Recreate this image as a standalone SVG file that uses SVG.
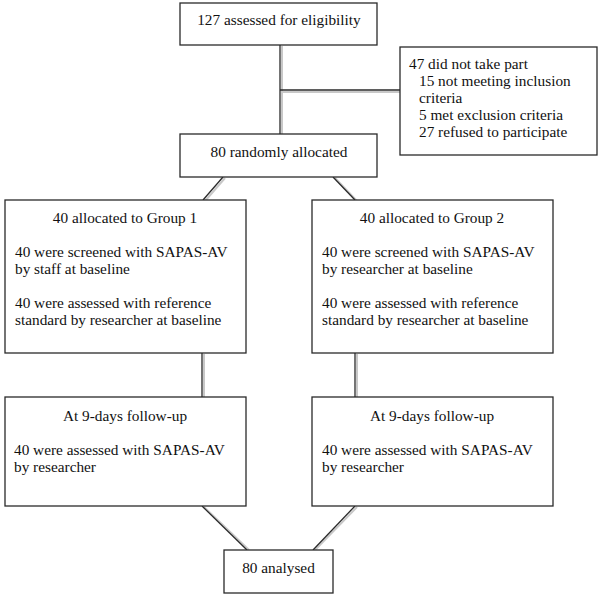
<svg xmlns="http://www.w3.org/2000/svg" width="600" height="597" viewBox="0 0 600 597">
<style>
.box{fill:#fff;stroke:#2a2a2a;stroke-width:1.3}
.t{font-family:"Liberation Serif","Times New Roman",serif;font-size:15.3px;fill:#111}
.c{text-anchor:middle}
.con line{stroke:#2a2a2a;stroke-width:1.3}
.sh line{stroke:#c8c8c8;stroke-width:2}
</style>
<rect width="600" height="597" fill="#fff"/>
<g id="connectors">
<g class="sh">
<line x1="282" y1="46" x2="282" y2="134"/>
<line x1="281" y1="92" x2="400" y2="92"/>
<line x1="225" y1="178" x2="205" y2="201"/>
<line x1="335" y1="178" x2="357" y2="201"/>
<line x1="204" y1="354" x2="204" y2="397"/>
<line x1="357" y1="354" x2="357" y2="397"/>
<line x1="204" y1="507" x2="249" y2="550"/>
<line x1="357" y1="507" x2="315" y2="550"/>
</g>
<g class="con">
<line x1="280" y1="45" x2="280" y2="134"/>
<line x1="280" y1="90" x2="400" y2="90"/>
<line x1="223" y1="177" x2="203" y2="200"/>
<line x1="333" y1="177" x2="355" y2="200"/>
<line x1="202" y1="353" x2="202" y2="397"/>
<line x1="355" y1="353" x2="355" y2="397"/>
<line x1="202" y1="506" x2="247" y2="550"/>
<line x1="355" y1="506" x2="313" y2="550"/>
</g>
</g>
<g id="assessed">
<rect class="box" x="180" y="3" width="197" height="42"/>
<text class="t c" x="279" y="25">127 assessed for eligibility</text>
</g>
<g id="excluded">
<rect class="box" x="400" y="47" width="197" height="108"/>
<text class="t" x="409" y="69">47 did not take part</text>
<text class="t" x="419" y="86">15 not meeting inclusion</text>
<text class="t" x="419" y="103">criteria</text>
<text class="t" x="419" y="120">5 met exclusion criteria</text>
<text class="t" x="419" y="137">27 refused to participate</text>
</g>
<g id="randomised">
<rect class="box" x="180" y="134" width="197" height="43"/>
<text class="t c" x="279" y="157">80 randomly allocated</text>
</g>
<g id="group1">
<rect class="box" x="5" y="200" width="241" height="153"/>
<text class="t c" x="125" y="223">40 allocated to Group 1</text>
<text class="t" x="15" y="257">40 were screened with SAPAS-AV</text>
<text class="t" x="15" y="274">by staff at baseline</text>
<text class="t" x="15" y="308">40 were assessed with reference</text>
<text class="t" x="15" y="325">standard by researcher at baseline</text>
</g>
<g id="group2">
<rect class="box" x="312" y="200" width="241" height="153"/>
<text class="t c" x="432" y="223">40 allocated to Group 2</text>
<text class="t" x="322" y="257">40 were screened with SAPAS-AV</text>
<text class="t" x="322" y="274">by researcher at baseline</text>
<text class="t" x="322" y="308">40 were assessed with reference</text>
<text class="t" x="322" y="325">standard by researcher at baseline</text>
</g>
<g id="followup1">
<rect class="box" x="5" y="397" width="241" height="109"/>
<text class="t c" x="125" y="421">At 9-days follow-up</text>
<text class="t" x="14" y="455">40 were assessed with SAPAS-AV</text>
<text class="t" x="14" y="472">by researcher</text>
</g>
<g id="followup2">
<rect class="box" x="312" y="397" width="241" height="109"/>
<text class="t c" x="432" y="421">At 9-days follow-up</text>
<text class="t" x="322" y="455">40 were assessed with SAPAS-AV</text>
<text class="t" x="322" y="472">by researcher</text>
</g>
<g id="analysed">
<rect class="box" x="224" y="550" width="109" height="43"/>
<text class="t c" x="278.5" y="573">80 analysed</text>
</g>
</svg>
